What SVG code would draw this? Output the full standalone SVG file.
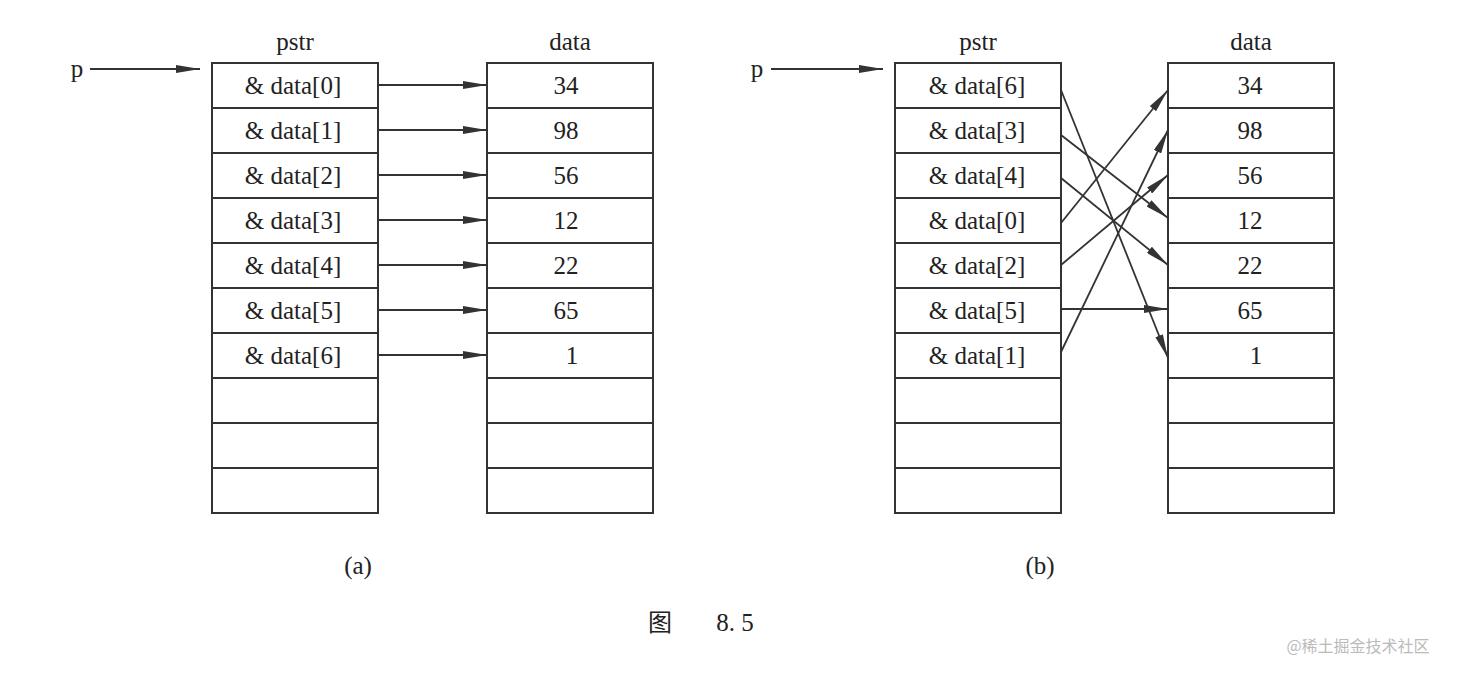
<svg xmlns="http://www.w3.org/2000/svg" width="1458" height="676" viewBox="0 0 1458 676">
<style>
.c{fill:#fff;stroke:#333;stroke-width:2}
text{font-family:"Liberation Serif",serif;font-size:25px;fill:#222;text-anchor:middle}
.l{stroke:#333;stroke-width:1.8;fill:none;marker-end:url(#a)}
</style>
<defs><marker id="a" viewBox="0 0 10 6" refX="10" refY="3" markerWidth="24" markerHeight="8" markerUnits="userSpaceOnUse" orient="auto" preserveAspectRatio="none"><path d="M0,0L10,3L0,6Z" fill="#333"/></marker>
<g id="cells"><rect class="c" x="0" y="63" width="166" height="45"/><rect class="c" x="0" y="108" width="166" height="45"/><rect class="c" x="0" y="153" width="166" height="45"/><rect class="c" x="0" y="198" width="166" height="45"/><rect class="c" x="0" y="243" width="166" height="45"/><rect class="c" x="0" y="288" width="166" height="45"/><rect class="c" x="0" y="333" width="166" height="45"/><rect class="c" x="0" y="378" width="166" height="45"/><rect class="c" x="0" y="423" width="166" height="45"/><rect class="c" x="0" y="468" width="166" height="45"/></g></defs>
<rect width="1458" height="676" fill="#fff"/>
<g id="pstrA"><use href="#cells" x="212"/><text x="295" y="50">pstr</text>
<text x="293" y="94">&amp; data[0]</text><text x="293" y="139">&amp; data[1]</text><text x="293" y="184">&amp; data[2]</text><text x="293" y="229">&amp; data[3]</text><text x="293" y="274">&amp; data[4]</text><text x="293" y="319">&amp; data[5]</text><text x="293" y="364">&amp; data[6]</text></g>
<g id="dataA"><use href="#cells" x="487"/><text x="570" y="50">data</text>
<text x="566" y="94">34</text><text x="566" y="139">98</text><text x="566" y="184">56</text><text x="566" y="229">12</text><text x="566" y="274">22</text><text x="566" y="319">65</text><text x="572" y="364">1</text></g>
<g id="pstrB"><use href="#cells" x="895"/><text x="978" y="50">pstr</text>
<text x="977" y="94">&amp; data[6]</text><text x="977" y="139">&amp; data[3]</text><text x="977" y="184">&amp; data[4]</text><text x="977" y="229">&amp; data[0]</text><text x="977" y="274">&amp; data[2]</text><text x="977" y="319">&amp; data[5]</text><text x="977" y="364">&amp; data[1]</text></g>
<g id="dataB"><use href="#cells" x="1168"/><text x="1251" y="50">data</text>
<text x="1250" y="94">34</text><text x="1250" y="139">98</text><text x="1250" y="184">56</text><text x="1250" y="229">12</text><text x="1250" y="274">22</text><text x="1250" y="319">65</text><text x="1256" y="364">1</text></g>
<text x="77" y="77">p</text><text x="757" y="77">p</text>
<text x="358" y="574">(a)</text><text x="1040" y="574">(b)</text>
<text x="660" y="631" style="font-family:'Noto Sans CJK SC',sans-serif;font-size:24px">图</text>
<text x="735" y="631" style="font-size:25px">8. 5</text>
<text x="1358" y="652" style="font-family:'Noto Sans CJK SC',sans-serif;font-size:16px;fill:#bbb">@稀土掘金技术社区</text>
<g id="connectors">
<path class="l" d="M90,69H200"/><path class="l" d="M771,69H883"/>
<path class="l" d="M378,85H487"/><path class="l" d="M378,130H487"/><path class="l" d="M378,175H487"/><path class="l" d="M378,220H487"/><path class="l" d="M378,265H487"/><path class="l" d="M378,310H487"/><path class="l" d="M378,355H487"/>
<path class="l" d="M1061,90L1168,358"/><path class="l" d="M1061,135L1168,218"/><path class="l" d="M1061,178L1168,265"/><path class="l" d="M1061,223L1168,90"/><path class="l" d="M1061,265L1168,175"/><path class="l" d="M1061,309L1168,309"/><path class="l" d="M1061,352L1168,130"/>
</g>
</svg>
